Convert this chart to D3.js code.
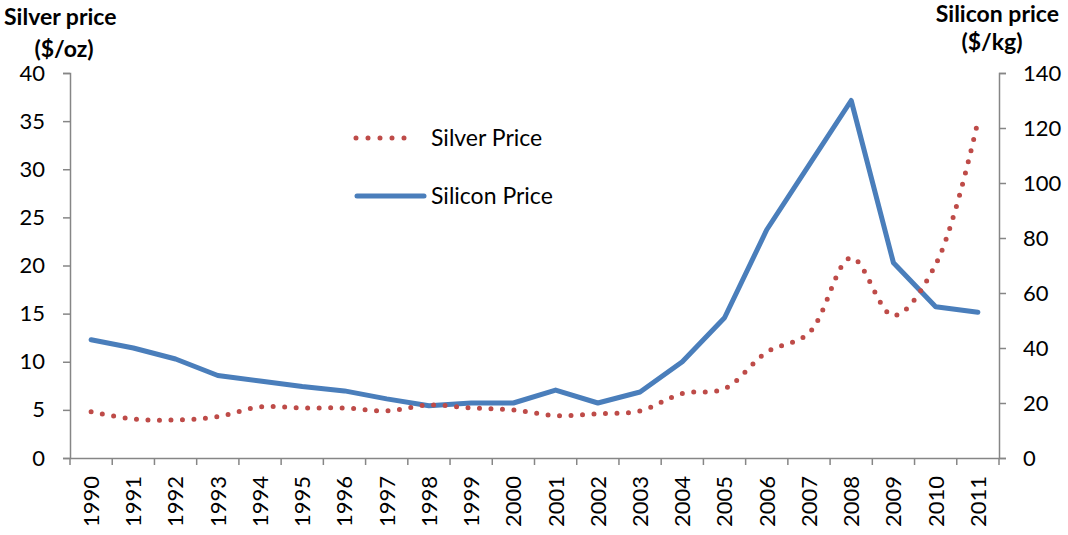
<!DOCTYPE html>
<html>
<head>
<meta charset="utf-8">
<script src="https://cdn.jsdelivr.net/npm/d3@7"></script>
<style>
  body { margin: 0; background: #fff; }
  text { font-family: Lato, "Open Sans", sans-serif; fill: #000; }
</style>
</head>
<body>
<script>
// data
var years = ["1990","1991","1992","1993","1994","1995","1996","1997","1998","1999","2000",
             "2001","2002","2003","2004","2005","2006","2007","2008","2009","2010","2011"];
var silver = [4.8, 4.05, 3.95, 4.3, 5.3, 5.2, 5.2, 4.9, 5.5, 5.2, 5.0,
              4.4, 4.6, 4.9, 6.7, 7.2, 11.0, 13.0, 20.8, 14.8, 20.1, 35.0];
var silicon = [43, 40, 36, 30, 28, 26, 24.4, 21.5, 19, 20, 20,
               24.7, 20, 24, 35, 51, 83, 106.5, 130, 71, 55, 53];
var leftTicks = [0, 5, 10, 15, 20, 25, 30, 35, 40];
var rightTicks = [0, 20, 40, 60, 80, 100, 120, 140];

var width = 1068, height = 535;
var margin = { top: 73, right: 69, bottom: 77, left: 70 };

var svg = d3.select("body").append("svg")
  .attr("width", width)
  .attr("height", height);

var x = d3.scaleBand()
  .domain(years)
  .range([margin.left, width - margin.right]);

var yL = d3.scaleLinear()
  .domain([0, 40])
  .range([height - margin.bottom, margin.top]);

var yR = d3.scaleLinear()
  .domain([0, 140])
  .range([height - margin.bottom, margin.top]);

var axisColor = "#868686";

// left axis
var gL = svg.append("g")
  .attr("transform", `translate(${margin.left},0)`)
  .call(d3.axisLeft(yL).tickValues(leftTicks).tickSize(7).tickPadding(18));

// right axis
var gR = svg.append("g")
  .attr("transform", `translate(${width - margin.right},0)`)
  .call(d3.axisRight(yR).tickValues(rightTicks).tickSize(7).tickPadding(17));

// x axis with ticks at band edges
var gX = svg.append("g")
  .attr("transform", `translate(0,${height - margin.bottom})`)
  .call(d3.axisBottom(x).tickSize(0));

gX.selectAll(".tick text")
  .attr("transform", "rotate(-90)")
  .attr("text-anchor", "end")
  .attr("x", -18)
  .attr("y", 0)
  .attr("dy", "0.36em");

gX.selectAll(".edge")
  .data(d3.range(years.length + 1))
  .enter()
  .append("line")
    .attr("class", "edge")
    .attr("x1", function (i) { return margin.left + i * x.step(); })
    .attr("x2", function (i) { return margin.left + i * x.step(); })
    .attr("y1", 0)
    .attr("y2", 7);

[gL, gR, gX].forEach(function (g) {
  g.selectAll("path, line").attr("stroke", axisColor).attr("stroke-width", 1.5);
  g.selectAll("text").style("font-size", "22px").style("font-family", "Lato, 'Open Sans', sans-serif").attr("fill", "#000");
});

var cx = function (d, i) { return x(years[i]) + x.bandwidth() / 2; };

// silicon line (straight)
svg.append("path")
  .datum(silicon)
  .attr("fill", "none")
  .attr("stroke", "#4a7ebb")
  .attr("stroke-width", 5)
  .attr("stroke-linejoin", "round")
  .attr("stroke-linecap", "round")
  .attr("d", d3.line()
    .x(cx)
    .y(function (d) { return yR(d); }));

// silver line (smoothed, dotted)
svg.append("path")
  .datum(silver)
  .attr("fill", "none")
  .attr("stroke", "#be4b48")
  .attr("stroke-width", 5)
  .attr("stroke-linecap", "round")
  .attr("stroke-dasharray", "0 11.5")
  .attr("d", d3.line()
    .curve(d3.curveCatmullRom.alpha(0.5))
    .x(cx)
    .y(function (d) { return yL(d); }));

// legend
var legend = svg.append("g");
legend.append("line")
  .attr("x1", 356).attr("x2", 416)
  .attr("y1", 138).attr("y2", 138)
  .attr("stroke", "#be4b48")
  .attr("stroke-width", 5)
  .attr("stroke-linecap", "round")
  .attr("stroke-dasharray", "0 12");
legend.append("text")
  .attr("x", 431).attr("y", 138).attr("dy", "0.36em")
  .style("font-size", "23px")
  .text("Silver Price");
legend.append("line")
  .attr("x1", 357).attr("x2", 424)
  .attr("y1", 196).attr("y2", 196)
  .attr("stroke", "#4a7ebb")
  .attr("stroke-width", 5)
  .attr("stroke-linecap", "round");
legend.append("text")
  .attr("x", 431).attr("y", 196).attr("dy", "0.36em")
  .style("font-size", "23px")
  .text("Silicon Price");

// axis titles
svg.append("text")
  .attr("x", 4).attr("y", 25)
  .style("font-size", "23px").style("font-weight", "bold")
  .text("Silver price");
svg.append("text")
  .attr("x", 64).attr("y", 57)
  .attr("text-anchor", "middle")
  .style("font-size", "23px").style("font-weight", "bold")
  .text("($/oz)");
svg.append("text")
  .attr("x", 1059).attr("y", 22)
  .attr("text-anchor", "end")
  .style("font-size", "23px").style("font-weight", "bold")
  .text("Silicon price");
svg.append("text")
  .attr("x", 992).attr("y", 50)
  .attr("text-anchor", "middle")
  .style("font-size", "23px").style("font-weight", "bold")
  .text("($/kg)");
</script>
</body>
</html>
